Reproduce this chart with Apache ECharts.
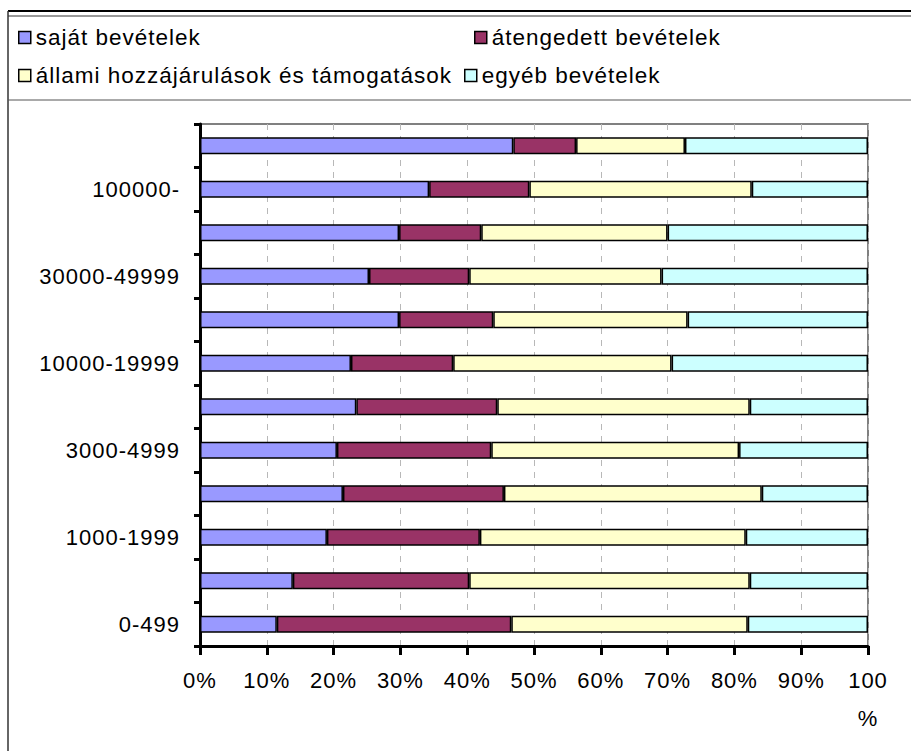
<!DOCTYPE html>
<html><head><meta charset="utf-8">
<script src="https://cdn.jsdelivr.net/npm/echarts@6/dist/echarts.min.js"></script>
<style>html,body{margin:0;padding:0;background:#fff}#c{width:911px;height:751px}#c svg text{letter-spacing:1px}</style>
</head><body><div id="c"></div>
<script>
const categories = ['0-499','500-999','1000-1999','2000-2999','3000-4999','5000-9999','10000-19999','20000-29999','30000-49999','50000-99999','100000-','Budapest'];
const seriesNames = ['saját bevételek','átengedett bevételek','állami hozzájárulások és támogatások','egyéb bevételek'];
const sajat      = [11.5,13.9,19.0,21.4,20.5,23.4,22.6,29.8,25.3,29.8,34.3,46.9];
const atengedett = [35.1,26.4,22.9,24.1,23.1,21.1,15.3,14.1,15.0,12.3,15.0, 9.4];
const allami     = [35.4,42.0,39.8,38.6,37.1,37.8,32.7,29.1,28.8,27.9,33.3,16.3];
const egyeb      = [18.0,17.7,18.3,15.9,19.3,17.7,29.4,27.0,30.9,30.0,17.4,27.4];
const colors = ['#9999FF','#993366','#FFFFCC','#CCFFFF'];
const values = [sajat, atengedett, allami, egyeb];

const FONT = 'Liberation Sans, Arial, sans-serif';
const chart = echarts.init(document.getElementById('c'), null, {renderer:'svg'});

function legendAt(i, left, top){
  return {
    data:[seriesNames[i]], left:left, top:top, itemWidth:12, itemHeight:12, itemGap:0,
    icon:'rect', padding:0,
    itemStyle:{borderColor:'#000', borderWidth:1.5},
    textStyle:{fontFamily:FONT, fontSize:22.5, color:'#000'}
  };
}

chart.setOption({
  animation:false,
  color: colors,
  legend:[legendAt(0,18,26), legendAt(1,474,26), legendAt(2,18,64), legendAt(3,464,64)],
  grid:{left:200, right:43, top:124, bottom:105, show:true, borderColor:'#808080', borderWidth:2, containLabel:false},
  xAxis:{
    type:'value', min:0, max:100, interval:10,
    axisLine:{show:true, lineStyle:{color:'#000', width:3}},
    axisTick:{show:true, length:9, lineStyle:{color:'#000', width:3}},
    splitLine:{show:true, lineStyle:{color:'#b8b8b8', width:1, type:[6,6]}},
    axisLabel:{margin:15, fontFamily:FONT, fontSize:22, color:'#000', lineHeight:38,
      formatter:function(v){ return v===100 ? '100\n%' : v+'%'; }}
  },
  yAxis:{
    type:'category', data:categories,
    axisLine:{show:true, lineStyle:{color:'#000', width:3}},
    axisTick:{show:true, interval:0, length:6, lineStyle:{color:'#000', width:3}},
    axisLabel:{interval:1, margin:20, fontFamily:FONT, fontSize:22, color:'#000'},
    splitLine:{show:false}
  },
  graphic:[
    {type:'line', shape:{x1:8,y1:11,x2:911,y2:11}, style:{stroke:'#000', lineWidth:2}},
    {type:'line', shape:{x1:8,y1:16,x2:911,y2:16}, style:{stroke:'#333', lineWidth:1}},
    {type:'line', shape:{x1:8,y1:11,x2:8,y2:751}, style:{stroke:'#333', lineWidth:1.5}},
    {type:'line', shape:{x1:8,y1:100,x2:911,y2:100}, style:{stroke:'#555', lineWidth:1}}
  ],
  series: seriesNames.map(function(n,i){
    return {name:n, type:'bar', stack:'t', barWidth:17, data:values[i],
      itemStyle:{color:colors[i], borderColor:'#000', borderWidth:1.5}};
  })
});
</script></body></html>
